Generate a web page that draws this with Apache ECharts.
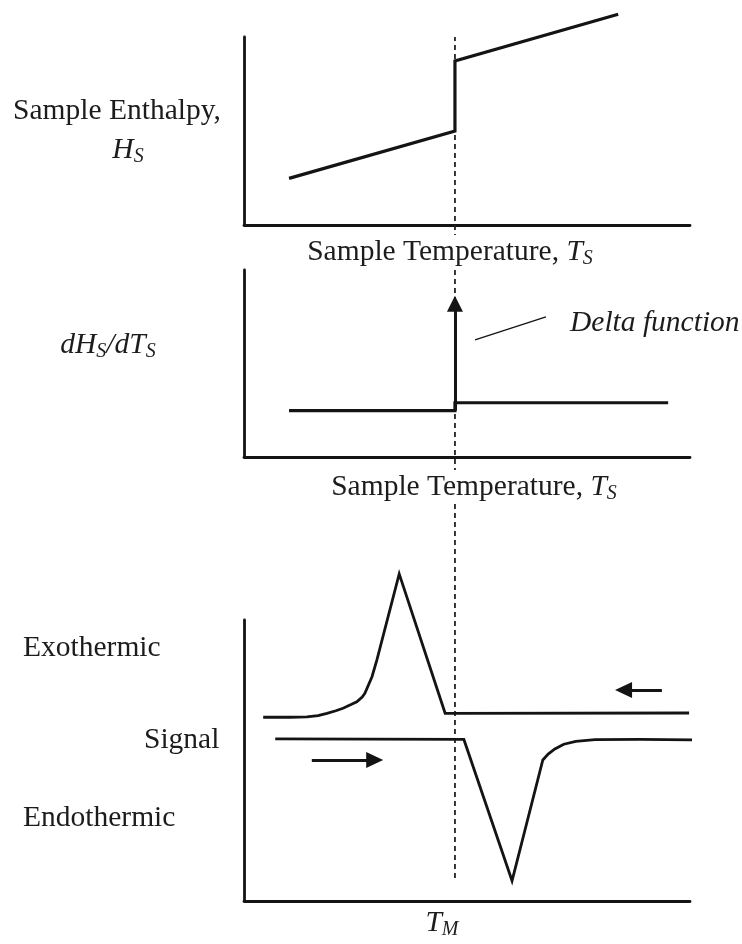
<!DOCTYPE html>
<html>
<head>
<meta charset="utf-8">
<script src="https://cdn.jsdelivr.net/npm/echarts@6/dist/echarts.min.js"></script>
<style>
html,body{margin:0;padding:0;background:#fff;}
#chart{width:742px;height:944px;}
</style>
</head>
<body>
<div id="chart"></div>
<script>
// ---------- Panel 1: sample enthalpy vs sample temperature ----------
const enthalpyT = [10.1, 47.3, 47.3, 83.9];
const enthalpyH = [24.8, 50.0, 87.2, 112.1];

// ---------- Panel 2: dHs/dTs vs sample temperature ----------
const slopeT = [10.1, 47.3, 47.3, 95.1];
const slopeVal = [24.8, 24.8, 29.0, 29.0];
const deltaT = [47.3, 47.3];
const deltaVal = [24.8, 82.0];
const pointerT = [51.8, 67.7];
const pointerVal = [62.6, 74.9];

// ---------- Panel 3: DSC signal ----------
const coolT = [4.3, 10.3, 14.1, 16.6, 18.6, 20.6, 22.2, 24.0, 25.3, 26.5, 27.1, 28.7, 29.8, 34.8, 45.1, 99.8];
const coolSignal = [65.4, 65.4, 65.5, 66.0, 66.8, 67.7, 68.6, 69.9, 70.9, 72.6, 73.9, 79.8, 85.8, 116.4, 66.8, 66.9];
const heatT = [7.0, 49.3, 60.1, 67.0, 68.2, 69.7, 71.7, 74.4, 78.7, 88.8, 101.6];
const heatSignal = [57.7, 57.5, 7.2, 50.2, 52.3, 54.1, 55.8, 56.8, 57.4, 57.5, 57.3];
const coolArrowT = [93.7, 85.1];
const coolArrowVal = [75.1, 75.1];
const heatArrowT = [15.2, 29.3];
const heatArrowVal = [50.2, 50.2];

// melting temperature (dashed guide)
const meltT = 47.3;

const zip = (xs, ys) => xs.map((x, i) => [x, ys[i]]);
const INK = '#141414';
const serif = '"Liberation Serif", "Times New Roman", serif';

const grids = [
  {left: 244, width: 446, top: 37, height: 188},
  {left: 244, width: 446, top: 270, height: 187},
  {left: 244, width: 446, top: 620, height: 281},
  {left: 244, width: 446, top: 37, height: 841}
];

function axisX(i, show) {
  return {type: 'value', gridIndex: i, min: 0, max: 100, show: show,
    axisLine: {show: true, onZero: false, lineStyle: {color: INK, width: 2.8}},
    axisTick: {show: false}, axisLabel: {show: false}, splitLine: {show: false}};
}
function axisY(i, show, max) {
  return {type: 'value', gridIndex: i, min: 0, max: max, show: show,
    axisLine: {show: true, onZero: false, lineStyle: {color: INK, width: 2.8}},
    axisTick: {show: false}, axisLabel: {show: false}, splitLine: {show: false}};
}

function arrowLine(xs, ys, size, width) {
  return {
    silent: true, animation: false,
    symbol: ['none', 'triangle'], symbolSize: size,
    label: {show: false},
    lineStyle: {type: 'solid', color: INK, width: width},
    itemStyle: {color: INK},
    emphasis: {disabled: true},
    data: [[{coord: [xs[0], ys[0]]}, {coord: [xs[1], ys[1]]}]]
  };
}

function lineSeries(i, data, width, extra) {
  return Object.assign({
    type: 'line', xAxisIndex: i, yAxisIndex: i, data: data,
    showSymbol: false, symbol: 'none', clip: false, animation: false, silent: true,
    lineStyle: {color: INK, width: width, join: 'miter', cap: 'butt'}
  }, extra || {});
}

const series = [
  lineSeries(3, [[meltT, 0], [meltT, 1]], 2, {lineStyle: {color: '#222', width: 1.8, type: [5, 4]}}),
  lineSeries(0, zip(enthalpyT, enthalpyH), 3.2),
  lineSeries(1, zip(slopeT, slopeVal), 3.2, {markLine: arrowLine(deltaT, deltaVal, [16, 16], 3)}),
  lineSeries(1, zip(pointerT, pointerVal), 1.4),
  lineSeries(2, zip(coolT, coolSignal), 2.8, {markLine: arrowLine(coolArrowT, coolArrowVal, [16, 17], 3)}),
  lineSeries(2, zip(heatT, heatSignal), 2.8, {markLine: arrowLine(heatArrowT, heatArrowVal, [16, 17], 3)})
];

const baseFont = {fontSize: 29.5, fontFamily: serif, fill: '#1c1c1c'};
const rich = {
  i: {fontSize: 29.5, fontFamily: serif, fontStyle: 'italic'},
  s: {fontSize: 20, fontFamily: serif, fontStyle: 'italic', padding: [14, 0, 0, 0]}
};
function txt(text, x, y, align, bg) {
  const style = Object.assign({}, baseFont, {
    text: text, textAlign: align, textVerticalAlign: 'middle', rich: rich
  });
  if (bg) { style.backgroundColor = '#fff'; style.padding = [0, 4, 0, 4]; }
  return {type: 'text', x: x, y: y, z: 100, silent: true, style: style};
}

const graphic = [
  txt('Sample Enthalpy,', 117, 111, 'center'),
  txt('{i|H}{s|S}', 128, 150, 'center'),
  txt('Sample Temperature, {i|T}{s|S}', 450, 252, 'center', true),
  txt('Sample Temperature, {i|T}{s|S}', 474, 487, 'center', true),
  txt('{i|dH}{s|S}{i|/dT}{s|S}', 108, 345, 'center'),
  txt('{i|Delta function}', 570, 323, 'left'),
  txt('Exothermic', 23, 648, 'left'),
  txt('Signal', 144, 740, 'left'),
  txt('Endothermic', 23, 818, 'left'),
  txt('{i|T}{s|M}', 442, 923, 'center')
];

const chart = echarts.init(document.getElementById('chart'), null, {renderer: 'canvas'});
chart.setOption({
  backgroundColor: '#fff',
  animation: false,
  grid: grids,
  xAxis: [axisX(0, true), axisX(1, true), axisX(2, true), axisX(3, false)],
  yAxis: [axisY(0, true, 100), axisY(1, true, 100), axisY(2, true, 100), axisY(3, false, 1)],
  series: series,
  graphic: graphic
});
</script>
</body>
</html>
